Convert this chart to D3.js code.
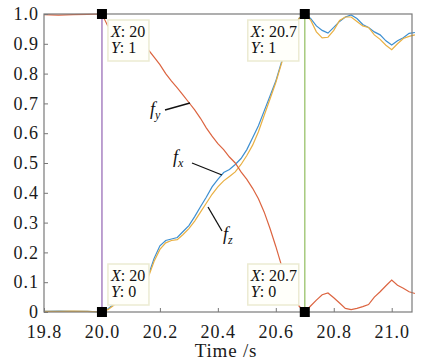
<!DOCTYPE html>
<html>
<head>
<meta charset="utf-8">
<script src="https://cdn.jsdelivr.net/npm/d3@7"></script>
<style>
  html, body { margin: 0; padding: 0; background: #fff; }
  svg { display: block; }
  .tick text { font-family: "Liberation Serif", serif; font-size: 18px; fill: #1a1a1a; letter-spacing: 1px; }
</style>
</head>
<body>
<div id="chart"></div>
<script>
// sample times (s)
const time = [19.80, 19.85, 19.90, 19.95, 20.00,
  20.02, 20.04, 20.06, 20.08, 20.10, 20.12, 20.14, 20.16, 20.18, 20.20,
  20.22, 20.24, 20.26, 20.28, 20.30, 20.32, 20.34, 20.36, 20.38, 20.40,
  20.42, 20.44, 20.46, 20.48, 20.50, 20.52, 20.54, 20.56, 20.58, 20.60,
  20.62, 20.64, 20.66, 20.68, 20.70,
  20.72, 20.74, 20.76, 20.78, 20.80, 20.82, 20.84, 20.86, 20.88, 20.90,
  20.92, 20.94, 20.96, 20.98, 21.00, 21.02, 21.04, 21.06, 21.08];

const fx = [0.002, 0.003, 0.002, 0.002, 0.0,
  0.01, 0.025, 0.04, 0.055, 0.07, 0.085, 0.10, 0.123, 0.18, 0.222,
  0.24, 0.245, 0.25, 0.27, 0.29, 0.32, 0.353, 0.385, 0.42, 0.445,
  0.468, 0.478, 0.495, 0.515, 0.545, 0.585, 0.625, 0.675, 0.725, 0.775,
  0.84, 0.895, 0.94, 0.985, 1.0,
  0.985, 0.96, 0.945, 0.936, 0.955, 0.975, 0.99, 0.997, 0.985, 0.965,
  0.955, 0.94, 0.93, 0.91, 0.896, 0.91, 0.92, 0.935, 0.938];

const fy = [0.998, 0.996, 0.998, 0.999, 1.0,
  0.96, 0.95, 0.94, 0.93, 0.92, 0.91, 0.895, 0.88, 0.855, 0.83,
  0.80, 0.775, 0.752, 0.728, 0.703, 0.678, 0.65, 0.618, 0.59, 0.565,
  0.545, 0.52, 0.50, 0.47, 0.445, 0.415, 0.38, 0.335, 0.28, 0.22,
  0.155, 0.105, 0.06, 0.02, 0.0,
  0.02, 0.04, 0.058, 0.064, 0.048, 0.03, 0.012, 0.008, 0.012, 0.018,
  0.025, 0.05, 0.068, 0.088, 0.107, 0.09, 0.08, 0.068, 0.062];

const fz = [0.002, 0.002, 0.003, 0.002, 0.0,
  0.008, 0.022, 0.037, 0.052, 0.067, 0.082, 0.097, 0.117, 0.17, 0.21,
  0.232, 0.24, 0.243, 0.26, 0.28, 0.305, 0.335, 0.365, 0.395, 0.42,
  0.44, 0.455, 0.47, 0.495, 0.525, 0.56, 0.605, 0.66, 0.715, 0.77,
  0.835, 0.89, 0.94, 0.985, 1.0,
  0.98, 0.94, 0.92, 0.922, 0.945, 0.978, 0.99, 0.99, 0.975, 0.96,
  0.955, 0.93, 0.915, 0.895, 0.88, 0.9, 0.918, 0.925, 0.93];

const xTicks = [19.8, 20.0, 20.2, 20.4, 20.6, 20.8, 21.0];
const yTicks = [0, 0.1, 0.2, 0.3, 0.4, 0.5, 0.6, 0.7, 0.8, 0.9, 1.0];
const cursorX = [20.0, 20.7];
const tips = [
  {x: 20.0, y: 1, xl: '20'},
  {x: 20.7, y: 1, xl: '20.7'},
  {x: 20.0, y: 0, xl: '20'},
  {x: 20.7, y: 0, xl: '20.7'}
];

const W = 422, H = 360;
const serif = 'Liberation Serif, serif';
const x = d3.scaleLinear().domain([19.8, 21.07]).range([44, 412]);
const y = d3.scaleLinear().domain([0, 1]).range([312, 14]);

const svg = d3.select('#chart').append('svg')
  .attr('width', W).attr('height', H);

// cursor lines
const cursorColors = ['#a882c2', '#a6ca7e'];
svg.selectAll('.cursor')
  .data(cursorX)
  .enter().append('line')
  .attr('x1', d => x(d)).attr('x2', d => x(d))
  .attr('y1', y(1)).attr('y2', y(0))
  .attr('stroke', (d, i) => cursorColors[i])
  .attr('stroke-width', 1.5);

const series = [
  {name: 'fx', vals: fx, color: '#3d8fd1'},
  {name: 'fz', vals: fz, color: '#e9b043'},
  {name: 'fy', vals: fy, color: '#dc6440'}
];
const line = d3.line()
  .x((d, i) => x(time[i]))
  .y(d => y(d));

svg.append('g').selectAll('path')
  .data(series)
  .enter().append('path')
  .attr('d', d => line(d.vals))
  .attr('fill', 'none')
  .attr('stroke', d => d.color)
  .attr('stroke-width', 1.2);

// axes
svg.append('g')
  .attr('transform', 'translate(0,' + y(0) + ')')
  .call(d3.axisBottom(x).tickValues(xTicks).tickFormat(d3.format('.1f'))
    .tickSizeInner(-4).tickSizeOuter(0).tickPadding(13));
svg.append('g')
  .attr('transform', 'translate(' + x(19.8) + ',0)')
  .call(d3.axisLeft(y).tickValues(yTicks)
    .tickFormat(d => d === 0 ? '0' : d3.format('.1f')(d))
    .tickSizeInner(-4).tickSizeOuter(0).tickPadding(5));
svg.selectAll('.domain').remove();
svg.selectAll('.tick line').attr('stroke', '#777');

// box frame
svg.append('rect')
  .attr('x', x(19.8)).attr('y', y(1))
  .attr('width', x(21.07) - x(19.8)).attr('height', y(0) - y(1))
  .attr('fill', 'none').attr('stroke', '#7a7a7a').attr('stroke-width', 1.2);

// data tips
const tipW = d => d.xl.length > 2 ? 51 : 41;
const tipG = svg.append('g').selectAll('g')
  .data(tips)
  .enter().append('g')
  .attr('transform', d => {
    const dx = d.x > 20.5 ? -6 - tipW(d) : 6;
    const dy = d.y === 1 ? 6 : -48;
    return 'translate(' + (x(d.x) + dx) + ',' + (y(d.y) + dy) + ')';
  });
tipG.append('rect')
  .attr('width', tipW)
  .attr('height', 41)
  .attr('fill', '#fffffa')
  .attr('stroke', '#ecebd2')
  .attr('stroke-width', 1.5);
const tipText = (g, row, label, val) => {
  const t = g.append('text')
    .attr('x', 3).attr('y', row === 0 ? 17 : 33)
    .attr('font-family', serif)
    .attr('font-size', 16).attr('fill', '#111');
  t.append('tspan').attr('font-style', 'italic').text(label);
  t.append('tspan').text(': ' + val);
};
tipG.each(function (d) {
  const g = d3.select(this);
  tipText(g, 0, 'X', d.xl);
  tipText(g, 1, 'Y', d.y);
});

// markers
svg.append('g').selectAll('rect')
  .data(tips)
  .enter().append('rect')
  .attr('x', d => x(d.x) - 5).attr('y', d => y(d.y) - 5)
  .attr('width', 10).attr('height', 10)
  .attr('fill', '#000');

// curve annotations
const notes = [
  {sub: 'y', tx: 150, ty: 115, x1: 165, y1: 110, x2: 190, y2: 103},
  {sub: 'x', tx: 173, ty: 163, x1: 192, y1: 163, x2: 222, y2: 175},
  {sub: 'z', tx: 223, ty: 240, x1: 208, y1: 207, x2: 222, y2: 231}
];
svg.append('g').selectAll('line')
  .data(notes)
  .enter().append('line')
  .attr('x1', d => d.x1).attr('y1', d => d.y1)
  .attr('x2', d => d.x2).attr('y2', d => d.y2)
  .attr('stroke', '#111').attr('stroke-width', 1.3);
const noteText = svg.append('g').selectAll('text')
  .data(notes)
  .enter().append('text')
  .attr('x', d => d.tx).attr('y', d => d.ty)
  .attr('font-family', serif)
  .attr('font-style', 'italic')
  .attr('font-size', 18).attr('fill', '#111');
noteText.append('tspan').text('f');
noteText.append('tspan').attr('dy', 4).attr('font-size', 12).text(d => d.sub);

// axis title
svg.append('text')
  .attr('x', 226).attr('y', 357)
  .attr('text-anchor', 'middle')
  .attr('font-family', serif)
  .attr('font-size', 19).attr('letter-spacing', 0.8).attr('fill', '#1a1a1a')
  .text('Time /s');
</script>
</body>
</html>
